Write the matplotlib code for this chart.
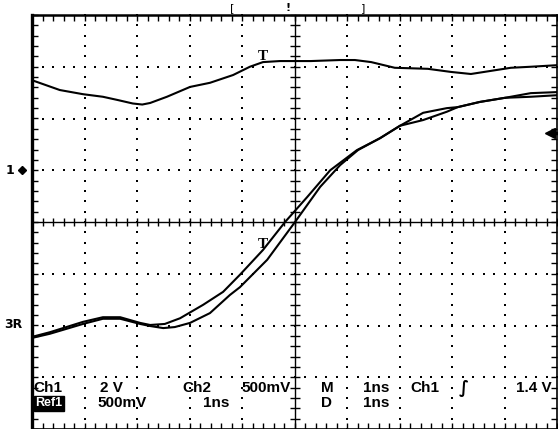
import numpy as np
import matplotlib
matplotlib.use("Agg")
import matplotlib.pyplot as plt
from matplotlib.lines import TICKLEFT, TICKRIGHT, TICKUP, TICKDOWN

# Scope capture, 1 ns/div, 10 x 8 divisions. Values in divisions.

# ── Ch2 (top trace) ──────────────────────────────────────────────────────────
ch2_t = [0, 0.53, 0.97, 1.35, 1.62, 1.92, 2.10, 2.25, 2.57, 3.01, 3.39, 3.83, 4.15, 4.40,
         4.72, 5.31, 5.87, 6.15, 6.46, 6.91, 7.54, 7.98, 8.36, 8.74, 9.12, 9.50, 10.0]
ch2_v = [2.74, 2.55, 2.47, 2.42, 2.36, 2.29, 2.27, 2.30, 2.42, 2.61, 2.69, 2.84, 3.00, 3.09,
         3.11, 3.11, 3.13, 3.13, 3.09, 2.98, 2.96, 2.90, 2.86, 2.92, 2.98, 3.00, 3.03]

# ── Ch1 (rising edge, leading) ───────────────────────────────────────────────
ch1_t = [0, 0.34, 0.97, 1.35, 1.68, 2.06, 2.25, 2.53, 2.82, 3.26, 3.64, 3.96, 4.40,
         4.82, 5.24, 5.68, 6.19, 6.63, 7.01, 7.45, 7.90, 8.11, 8.53, 9.01, 9.50, 10.0]
ch1_v = [-2.22, -2.13, -1.93, -1.84, -1.84, -1.95, -1.99, -1.97, -1.86, -1.60, -1.35,
         -1.02, -0.54, 0.0, 0.48, 1.00, 1.39, 1.62, 1.86, 2.11, 2.20, 2.22, 2.32, 2.40,
         2.49, 2.51]

# ── Ref1 (stored waveform) ───────────────────────────────────────────────────
ref1_t = [0, 0.34, 0.97, 1.35, 1.68, 2.06, 2.25, 2.50, 2.72, 3.01, 3.39, 3.77, 3.96,
          4.48, 5.01, 5.49, 5.87, 6.21, 6.63, 7.01, 7.45, 7.90, 8.11, 8.53, 9.01, 9.50, 10.0]
ref1_v = [-2.24, -2.16, -1.97, -1.87, -1.87, -1.97, -2.01, -2.05, -2.03, -1.95, -1.76,
          -1.41, -1.26, -0.73, 0.0, 0.68, 1.10, 1.39, 1.62, 1.86, 1.97, 2.13, 2.22, 2.32,
          2.40, 2.42, 2.45]

row1_labels = [("Ch1", 0.02, "left"), ("2 V", 1.73, "right"), ("Ch2", 2.86, "left"),
               ("500mV", 4.92, "right"), ("M", 5.50, "left"), ("1ns", 6.30, "left"),
               ("Ch1", 7.20, "left"), ("1.4 V", 9.89, "right")]
row2_labels = [("500mV", 1.24, "left"), ("1ns", 3.26, "left"),
               ("D", 5.50, "left"), ("1ns", 6.30, "left")]

NX, NY = 10, 8
SUB = 0.2

fig = plt.figure(figsize=(5.58, 4.29), dpi=100)
ax = fig.add_axes([32 / 558, 0.0, 525 / 558, 414 / 429])
ax.set_xlim(0, NX)
ax.set_ylim(-NY / 2, NY / 2)
ax.set_axis_off()

k = dict(color="black", clip_on=False)

# ── Graticule ────────────────────────────────────────────────────────────────
sub_x = np.arange(0, NX + 1e-9, SUB)
sub_y = np.arange(-NY / 2, NY / 2 + 1e-9, SUB)
for gx in range(1, NX):
    if gx == NX // 2:
        continue
    ax.plot(np.full_like(sub_y, gx), sub_y, ls="none", marker="s", ms=1.6, mew=0, **k)
for gy in range(-NY // 2 + 1, NY // 2):
    if gy == 0:
        continue
    ax.plot(sub_x, np.full_like(sub_x, gy), ls="none", marker="s", ms=1.6, mew=0, **k)

# centre cross with minor ticks
ax.plot([0, NX], [0, 0], lw=1.0, **k)
ax.plot([NX / 2, NX / 2], [-NY / 2, NY / 2], lw=1.0, **k)
ax.plot(sub_x, np.zeros_like(sub_x), ls="none", marker="|", ms=6, mew=1.0, **k)
ax.plot(np.full_like(sub_y, NX / 2), sub_y, ls="none", marker="_", ms=7, mew=1.0, **k)

# frame with inward ticks
ax.plot([0, 0], [-NY / 2, NY / 2], lw=2.4, **k)
ax.plot([0, NX], [NY / 2, NY / 2], lw=1.8, **k)
ax.plot([NX, NX], [-NY / 2, NY / 2], lw=1.2, **k)
ax.plot([0, NX], [-NY / 2, -NY / 2], lw=1.2, **k)
ax.plot(np.zeros_like(sub_y), sub_y, ls="none", marker=TICKRIGHT, ms=4, mew=1.0, **k)
ax.plot(np.full_like(sub_y, NX), sub_y, ls="none", marker=TICKLEFT, ms=4, mew=1.0, **k)
ax.plot(sub_x, np.full_like(sub_x, NY / 2), ls="none", marker=TICKDOWN, ms=4, mew=1.0, **k)
ax.plot(sub_x, np.full_like(sub_x, -NY / 2), ls="none", marker=TICKUP, ms=4, mew=1.0, **k)

# ── Waveforms ────────────────────────────────────────────────────────────────
for t, v in [(ch2_t, ch2_v), (ch1_t, ch1_v), (ref1_t, ref1_v)]:
    ax.plot(t, v, lw=1.5, color="black", solid_joinstyle="round", solid_capstyle="round")

# trigger "T" marks
ax.text(4.40, 3.19, "T", family="Liberation Serif", weight="bold", fontsize=11,
        ha="center", va="center")
ax.text(4.40, -0.44, "T", family="Liberation Serif", weight="bold", fontsize=11,
        ha="center", va="center")

# ground / level markers outside the graticule
ax.text(-0.42, 1.0, "1", fontsize=9, weight="bold", ha="center", va="center")
ax.plot([-0.19], [1.0], marker="D", ms=4, **k)
ax.text(-0.36, -1.99, "3R", fontsize=9, weight="bold", ha="center", va="center")
ax.plot([9.86], [1.72], marker="<", ms=7, **k)
ax.plot([9.86, 10.0], [1.72, 1.72], lw=2.5, **k)

# record window bracket at top
ax.text(3.81, 4.14, "[", fontsize=8, ha="center", va="center")
ax.text(4.88, 4.14, "!", fontsize=8, weight="bold", ha="center", va="center")
ax.text(6.30, 4.14, "]", fontsize=8, ha="center", va="center")

# ── Readout ──────────────────────────────────────────────────────────────────
txt = dict(family="Liberation Sans", weight="bold", fontsize=11, va="center")
for s, x, ha in row1_labels:
    ax.text(x, -3.21, s, ha=ha, **txt)
for s, x, ha in row2_labels:
    ax.text(x, -3.50, s, ha=ha, **txt)
ax.text(8.23, -3.21, "∫", ha="center", family="DejaVu Sans", weight="bold",
        fontsize=12, va="center", style="italic")
ax.text(0.06, -3.50, "Ref1", ha="left", va="center", color="white",
        family="Liberation Sans", weight="bold", fontsize=9,
        bbox=dict(facecolor="black", edgecolor="black", pad=1.2))

fig.savefig("out.png", dpi=100)
